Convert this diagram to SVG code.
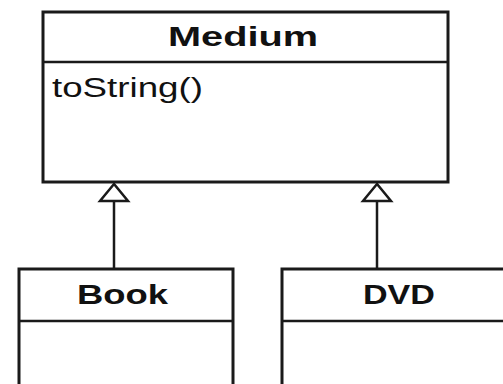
<svg xmlns="http://www.w3.org/2000/svg" width="503" height="384" viewBox="0 0 503 384">
<style>
.box{fill:#fff;stroke:#1a1a1a;stroke-width:3}
.div{stroke:#1a1a1a;stroke-width:2.5}
.title{font-family:"Liberation Sans",Arial,sans-serif;font-weight:bold;font-size:28px;fill:#111}
.op{font-family:"Liberation Sans",Arial,sans-serif;font-size:27px;fill:#111}
.edge{stroke:#1a1a1a;stroke-width:2.5;fill:none}
.head{fill:#fff;stroke:#1a1a1a;stroke-width:2.5;stroke-linejoin:miter}
</style>
<rect width="503" height="384" fill="#fff"/>
<g id="Medium">
<rect class="box" x="43" y="12" width="405" height="170"/>
<line class="div" x1="43" y1="62" x2="448" y2="62"/>
<text class="title" x="243" y="46" text-anchor="middle" textLength="150" lengthAdjust="spacingAndGlyphs">Medium</text>
<text class="op" x="52" y="97" textLength="151" lengthAdjust="spacingAndGlyphs">toString()</text>
</g>
<g id="Book">
<rect class="box" x="19" y="269" width="214" height="130"/>
<line class="div" x1="19" y1="321" x2="233" y2="321"/>
<text class="title" x="122.5" y="304" text-anchor="middle" textLength="91" lengthAdjust="spacingAndGlyphs">Book</text>
</g>
<g id="DVD">
<rect class="box" x="282" y="269" width="240" height="130"/>
<line class="div" x1="282" y1="321" x2="510" y2="321"/>
<text class="title" x="399" y="304" text-anchor="middle" textLength="72" lengthAdjust="spacingAndGlyphs">DVD</text>
</g>
<g id="connectors">
<line class="edge" x1="114" y1="201" x2="114" y2="269"/>
<polygon class="head" points="114,184 100,201 128,201"/>
<line class="edge" x1="377" y1="201" x2="377" y2="269"/>
<polygon class="head" points="377,184 363,201 391,201"/>
</g>
</svg>
